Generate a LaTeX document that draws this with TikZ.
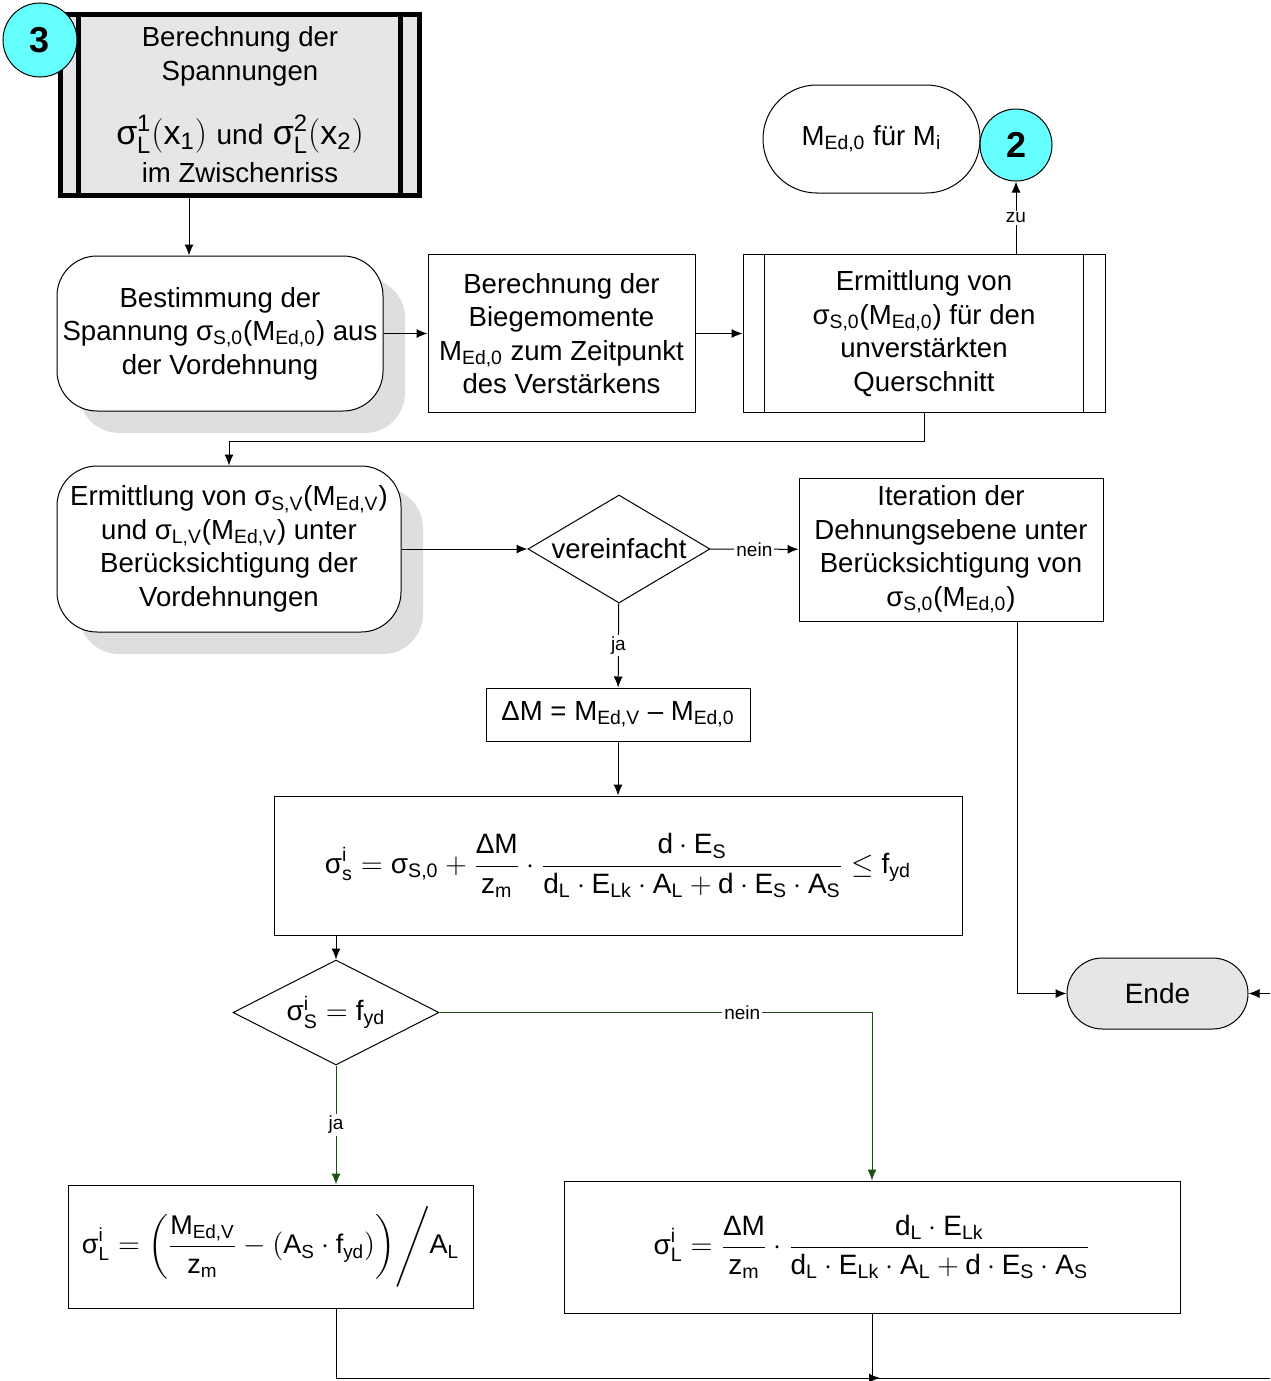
\documentclass[tikz,border=0pt]{standalone}
\usepackage{amsmath,amssymb}
\usepackage{fontspec}
\setmainfont{Liberation Sans}
\usetikzlibrary{arrows.meta,positioning,shapes.geometric,shadows}

\definecolor{kreisfarbe}{RGB}{102,255,255}
\definecolor{hell}{RGB}{230,230,230}
\definecolor{schatten}{RGB}{222,222,222}
\definecolor{gruen}{RGB}{30,80,20}

\newcommand{\sg}{\text{σ}}
\newcommand{\tx}[1]{\text{#1}}

\tikzset{
  txt/.style={font=\fontsize{13.8}{16.75}\selectfont},
  proc/.style={draw, rectangle, align=center, inner sep=0pt, fill=white, txt},
  rund/.style={proc, rounded corners=20pt,
    copy shadow={shadow xshift=11pt, shadow yshift=-11pt, fill=schatten, draw=none}},
  kreis/.style={circle, draw, fill=kreisfarbe, minimum size=36pt, inner sep=0pt,
    font=\fontsize{18}{18}\selectfont\bfseries},
  entscheid/.style={diamond, draw, inner sep=0pt, align=center, fill=white, txt},
  lab/.style={fill=white, inner sep=1pt, font=\fontsize{9.5}{10}\selectfont},
  formel/.style={proc, font=\fontsize{14}{17}\selectfont},
}

\begin{document}
\begin{tikzpicture}[x=0.5pt, y=-0.5pt, >={Latex[length=5.5pt,width=4.5pt]}, line width=0.5pt]
\useasboundingbox (0,0) rectangle (1270,1381);

% Berechnung im Zwischenriss
\node [proc, line width=2.5pt, fill=hell, minimum width=179.5pt, minimum height=90.5pt] (span) at (240,105)
  {Berechnung der\\Spannungen\\[13.5pt]{\fontsize{17}{19}\selectfont$\sg^{\tx{1}}_{\tx{L}}(\tx{x}_{\tx{1}})$ {\fontsize{14}{14}\selectfont und} $\sg^{\tx{2}}_{\tx{L}}(\tx{x}_{\tx{2}})$}\\[2.5pt]im Zwischenriss};
\draw [line width=2.5pt] ([xshift=10pt]span.north west) -- ([xshift=10pt]span.south west);
\draw [line width=2.5pt] ([xshift=-11pt]span.north east) -- ([xshift=-11pt]span.south east);
\node [kreis, minimum size=37pt] (k3) at (40,40) {3};

% Vordehnung
\node [rund, minimum width=163pt, minimum height=77.5pt] (vord) at (220,333.5)
  {Bestimmung der\\Spannung σ\textsubscript{S,0}(M\textsubscript{Ed,0}) aus\\der Vordehnung};
\node [proc, right=22pt of vord, minimum width=133.5pt, minimum height=79pt] (biege)
  {Berechnung der\\Biegemomente\\M\textsubscript{Ed,0} zum Zeitpunkt\\des Verstärkens};
\node [proc, right=23.5pt of biege, minimum width=181pt, minimum height=79pt] (unv)
  {Ermittlung von\\σ\textsubscript{S,0}(M\textsubscript{Ed,0}) für den\\unverstärkten\\Querschnitt};
\draw ([xshift=11pt]unv.north west) -- ([xshift=11pt]unv.south west);
\draw ([xshift=-11pt]unv.north east) -- ([xshift=-11pt]unv.south east);

\node [proc, rounded corners=26.9pt, minimum width=108.5pt, minimum height=54pt] (med) at (871.5,139)
  {M\textsubscript{Ed,0} für M\textsubscript{i}};
\node [kreis] (k2) at (1016,145) {2};

\draw [->] ([xshift=-25.5pt]span.south) -- ([xshift=-25.5pt]span.south |- vord.north);
\draw [->] (vord) -- (biege);
\draw [->] (biege) -- (unv);
\draw [->] (k2 |- unv.north) -- node [lab] {zu} (k2.south);

% verstaerkter Zustand
\node [rund, minimum width=172pt, minimum height=83pt] (verst) at (229,549)
  {Ermittlung von σ\textsubscript{S,V}(M\textsubscript{Ed,V})\\und σ\textsubscript{L,V}(M\textsubscript{Ed,V}) unter\\Berücksichtigung der\\Vordehnungen};
\node [entscheid, aspect=1.75, minimum width=91pt, minimum height=54pt, right=63pt of verst] (vereinf) {vereinfacht};
\node [proc, minimum width=152pt, minimum height=71.5pt] (iter) at (951,549.5)
  {Iteration der\\Dehnungsebene unter\\Berücksichtigung von\\σ\textsubscript{S,0}(M\textsubscript{Ed,0})};
\node [proc, minimum width=132pt, minimum height=26.5pt] (dm) at (618,714.5)
  {ΔM = M\textsubscript{Ed,V} – M\textsubscript{Ed,0}};

\draw [->] (unv.south) -- ++(0,-14pt) -| (verst.north);
\draw [->] (verst) -- (vereinf);
\draw [->] (vereinf) -- node [lab] {nein} (iter);
\draw [->] (vereinf) -- node [lab] {ja} (dm);

% Stahlspannung
\node [formel, minimum width=344pt, minimum height=69.5pt] (sigs) at (618,865.5)
  {$\displaystyle \sg^{\tx{i}}_{\tx{s}} = \sg_{\tx{S,0}} + \frac{\tx{ΔM}}{\tx{z}_{\tx{m}}}\cdot
   \frac{\tx{d}\cdot\tx{E}_{\tx{S}}}{\tx{d}_{\tx{L}}\cdot\tx{E}_{\tx{Lk}}\cdot\tx{A}_{\tx{L}}+\tx{d}\cdot\tx{E}_{\tx{S}}\cdot\tx{A}_{\tx{S}}}
   \le \tx{f}_{\tx{yd}}$};
\node [entscheid, aspect=1.96, minimum width=103pt, minimum height=52.5pt, font=\fontsize{14}{17}\selectfont] (fl) at (336,1012.5)
  {$\sg^{\tx{i}}_{\tx{S}} = \tx{f}_{\tx{yd}}$};
\node [proc, rounded corners=17.7pt, fill=hell, minimum width=90.5pt, minimum height=35.5pt, font=\fontsize{14}{16}\selectfont] (ende) at (1157.5,993.5) {Ende};

\draw [->] (dm) -- (sigs);
\draw [->] (fl |- sigs.south) -- (fl.north);
\coordinate [xshift=33pt] (it) at (iter.south);
\draw [->] (it) |- (ende.west);
\coordinate (vonrechts) at (1270,993.5);
\draw [->] (vonrechts) -- (ende.east);

% Lamellenspannung
\node [formel, minimum width=202.5pt, minimum height=61.5pt, font=\fontsize{13.5}{16}\selectfont] (lfl) at (270.5,1246.5)
  {$\displaystyle \sg^{\tx{i}}_{\tx{L}} = \left(\frac{\tx{M}_{\tx{Ed,V}}}{\tx{z}_{\tx{m}}} - \left(\tx{A}_{\tx{S}}\cdot\tx{f}_{\tx{yd}}\right)\right)\!\Bigg/\tx{A}_{\tx{L}}$};
\node [formel, minimum width=308pt, minimum height=66pt] (lel) at (872,1247)
  {$\displaystyle \sg^{\tx{i}}_{\tx{L}} = \frac{\tx{ΔM}}{\tx{z}_{\tx{m}}}\cdot
   \frac{\tx{d}_{\tx{L}}\cdot\tx{E}_{\tx{Lk}}}{\tx{d}_{\tx{L}}\cdot\tx{E}_{\tx{Lk}}\cdot\tx{A}_{\tx{L}}+\tx{d}\cdot\tx{E}_{\tx{S}}\cdot\tx{A}_{\tx{S}}}$};

\draw [->, gruen] (fl.east) -| node [lab, text=black, pos=0.35] {nein} (lel.north);
\draw [->, gruen] (fl.south) -- node [lab, text=black] {ja} (fl.south |- lfl.north);

\coordinate (zus) at (880,1378);
\coordinate (weiter) at (1270,1378);
\draw [->] (fl.south |- lfl.south) |- (zus);
\draw (lel.south) -- (lel.south |- zus) -- (weiter);

\end{tikzpicture}
\end{document}
